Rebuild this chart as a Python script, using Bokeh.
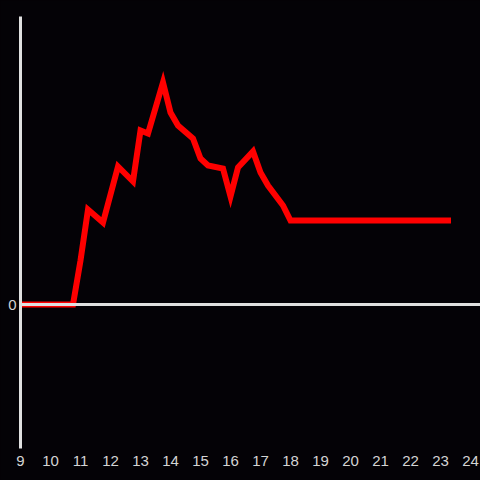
from bokeh.plotting import figure
from bokeh.models import Range1d, FixedTicker, Span, ColumnDataSource, AllLabels
from bokeh.embed import file_html
from bokeh.resources import INLINE

# Hour of day and series value (units)
hours = [9, 10.75, 11.0, 11.25, 11.75, 12.25, 12.75, 13.0, 13.25, 13.75, 14.0, 14.25,
         14.75, 15.0, 15.25, 15.75, 16.0, 16.25, 16.75, 17.0, 17.25, 17.75, 18.0, 23.25]
values = [0, 0, 4.4, 9.5, 8.2, 13.8, 12.3, 17.4, 17.1, 22.2, 19.2, 17.9,
          16.6, 14.6, 13.9, 13.6, 10.8, 13.7, 15.3, 13.2, 11.9, 9.9, 8.4, 8.4]
x_ticks = list(range(9, 25))
y_ticks = [0]

BG = "#040206"
AXIS = "#e0e0e0"
LABEL = "#d4d4d4"
FONT = "Liberation Sans"

p = figure(width=480, height=480, output_backend="svg", toolbar_location=None,
           x_range=Range1d(9, 24.333), y_range=Range1d(-14.4, 28.8),
           min_border_left=20, min_border_right=0, min_border_top=16, min_border_bottom=32)
p.background_fill_color = BG
p.border_fill_color = BG
p.outline_line_color = None
p.xgrid.visible = False
p.ygrid.visible = False

# x axis: labels only
xa = p.xaxis[0]
xa.ticker = FixedTicker(ticks=x_ticks)
xa.major_label_policy = AllLabels()
xa.axis_line_color = None
xa.major_tick_line_color = None
xa.minor_tick_line_color = None
xa.major_tick_out = 0
xa.major_tick_in = 0
xa.major_label_standoff = 7
xa.major_label_text_color = LABEL
xa.major_label_text_font = FONT
xa.major_label_text_font_size = "15px"

# y axis: spine + single "0" label
ya = p.yaxis[0]
ya.ticker = FixedTicker(ticks=y_ticks)
ya.axis_line_color = AXIS
ya.axis_line_width = 3
ya.major_tick_line_color = None
ya.minor_tick_line_color = None
ya.major_tick_out = 0
ya.major_tick_in = 0
ya.major_label_standoff = 4
ya.major_label_text_color = LABEL
ya.major_label_text_font = FONT
ya.major_label_text_font_size = "15px"

zero = Span(location=0, dimension="width", line_color=AXIS, line_width=3)
p.add_layout(zero)

src = ColumnDataSource(data=dict(x=hours, y=values))
p.line("x", "y", source=src, line_color="#ff0000", line_width=6,
       line_join="miter", line_cap="square")

html = file_html(p, INLINE, title="chart")
html = html.replace("<head>", "<head><style>html,body{background-color:%s;}</style>" % BG, 1)
open("out.html", "w").write(html)
